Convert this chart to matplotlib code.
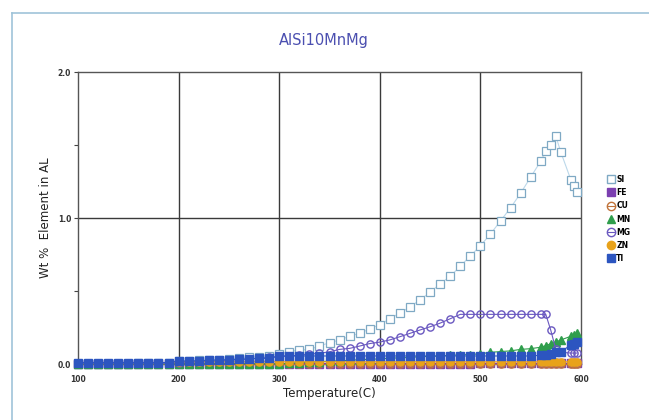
import matplotlib
matplotlib.use("Agg")
import matplotlib.pyplot as plt
from matplotlib.lines import Line2D

temps = [100, 110, 120, 130, 140, 150, 160, 170, 180, 190,
         200, 210, 220, 230, 240, 250, 260, 270, 280, 290,
         300, 310, 320, 330, 340, 350, 360, 370, 380, 390,
         400, 410, 420, 430, 440, 450, 460, 470, 480, 490,
         500, 510, 520, 530, 540, 550, 560, 565, 570, 575,
         580, 590, 593, 596]

si = [0.0, 0.0, 0.0, 0.0, 0.0, 0.0, 0.005, 0.005, 0.01, 0.01,
      0.02, 0.02, 0.025, 0.03, 0.03, 0.035, 0.04, 0.045, 0.05, 0.055,
      0.07, 0.084, 0.096, 0.10, 0.123, 0.146, 0.164, 0.19, 0.21, 0.24,
      0.27, 0.31, 0.35, 0.39, 0.44, 0.49, 0.55, 0.60, 0.67, 0.74,
      0.81, 0.89, 0.98, 1.07, 1.17, 1.28, 1.39, 1.46, 1.50, 1.56,
      1.45, 1.26, 1.22, 1.18]

fe = [0.0] * 10 + [0.002] * 10 + [0.003] * 20 + [0.004] * 14

cu = [0.0] * 54

mn = [0.0, 0.0, 0.0, 0.0, 0.0, 0.0, 0.0, 0.0, 0.0, 0.0,
      0.0, 0.0, 0.0, 0.0, 0.0, 0.0, 0.0, 0.0, 0.0, 0.0,
      0.0, 0.005, 0.01, 0.012, 0.015, 0.02, 0.022, 0.025, 0.03, 0.032,
      0.035, 0.04, 0.042, 0.045, 0.05, 0.052, 0.055, 0.06, 0.062, 0.065,
      0.07, 0.08, 0.085, 0.09, 0.10, 0.105, 0.115, 0.125, 0.14, 0.15,
      0.165, 0.19, 0.20, 0.21]

mg = [0.005, 0.005, 0.005, 0.005, 0.005, 0.005, 0.005, 0.005, 0.005, 0.005,
      0.01, 0.012, 0.015, 0.018, 0.02, 0.025, 0.03, 0.035, 0.04, 0.045,
      0.05, 0.055, 0.06, 0.068, 0.073, 0.084, 0.10, 0.107, 0.123, 0.14,
      0.15, 0.165, 0.187, 0.21, 0.233, 0.255, 0.28, 0.31, 0.34, 0.34,
      0.34, 0.34, 0.34, 0.34, 0.34, 0.34, 0.34, 0.34, 0.23, 0.10,
      0.08, 0.075, 0.075, 0.075]

zn = [0.01] * 10 + [0.015] * 44

ti = [0.01, 0.01, 0.01, 0.01, 0.01, 0.01, 0.01, 0.01, 0.01, 0.01,
      0.02, 0.02, 0.022, 0.025, 0.028, 0.03, 0.032, 0.035, 0.038, 0.04,
      0.055, 0.055, 0.055, 0.055, 0.055, 0.055, 0.055, 0.055, 0.055, 0.055,
      0.055, 0.055, 0.055, 0.055, 0.055, 0.055, 0.055, 0.055, 0.055, 0.055,
      0.055, 0.055, 0.055, 0.055, 0.055, 0.055, 0.06, 0.065, 0.07, 0.08,
      0.085, 0.13, 0.14, 0.15]

labels = ["SI", "FE", "CU", "MN", "MG", "ZN", "TI"]

fig = plt.figure(figsize=(6.49, 4.2), dpi=100)
fig.patch.set_facecolor("white")

# outer light-blue frame
fig.add_artist(Line2D([12/649, 12/649], [0, 1 - 13/420], color="#9fc3d9", lw=1.2, transform=fig.transFigure))
fig.add_artist(Line2D([12/649, 1], [1 - 13/420, 1 - 13/420], color="#9fc3d9", lw=1.2, transform=fig.transFigure))

ax = fig.add_axes([78/649, 1 - 364/420, 503/649, 292/420])

line_kw = dict(lw=0.8, markersize=5.2, clip_on=False)
ax.plot(temps, si, marker="s", mfc="white", mec="#7fa9c4", color="#bcd8ea", mew=0.9, **line_kw, zorder=3)
ax.plot(temps, fe, marker="s", mfc="#7b3fb0", mec="#7b3fb0", color="#7b3fb0", **line_kw, zorder=3)
ax.plot(temps, cu, marker="o", mfc="none", mec="#c0733a", color="#c0733a", **line_kw, zorder=3)
ax.plot(temps, mn, marker="^", mfc="#2f9e4c", mec="#2f9e4c", color="#2f9e4c", **line_kw, zorder=3)
ax.plot(temps, mg, marker="o", mfc="none", mec="#6a58c0", color="#6a58c0", mew=1.0, **line_kw, zorder=4)
ax.plot(temps, zn, marker="o", mfc="#e8a21a", mec="#e8a21a", color="#e8a21a", **line_kw, zorder=5)
ax.plot(temps, ti, marker="s", mfc="#2c55c0", mec="#2c55c0", color="#2c55c0", **line_kw, zorder=6)

ax.set_xlim(100, 600)
ax.set_ylim(0, 2.0)
ax.set_xticks([100, 200, 300, 400, 500, 600])
ax.set_yticks([0.0, 1.0, 2.0])
ax.set_yticklabels(["0.0", "1.0", "2.0"])
ax.set_yticks([0.5, 1.5], minor=True)
ax.tick_params(axis="both", which="major", labelsize=5.5, length=3, width=0.8, color="#444444", pad=2)
ax.tick_params(axis="y", which="minor", length=3, width=0.8, color="#444444")
ax.tick_params(axis="x", direction="in", pad=8)
for lbl in ax.get_xticklabels() + ax.get_yticklabels():
    lbl.set_fontweight("bold")
    lbl.set_color("#333333")

for x in [200, 300, 400, 500]:
    ax.axvline(x, color="#3a3a3a", lw=1.0, zorder=1)
ax.axhline(1.0, color="#3a3a3a", lw=1.0, zorder=1)
for s in ax.spines.values():
    s.set_color("#555555")
    s.set_linewidth(1.0)

ax.set_xlabel("Temperature(C)", fontsize=8.5, labelpad=2, color="#222222")
ax.set_ylabel("Wt %  Element in AL", fontsize=8.5, labelpad=4, color="#222222")

fig.text(324/649, 1 - 40/420, "AlSi10MnMg", ha="center", va="center", fontsize=10.5, color="#4b4fb0")

handles = [
    Line2D([], [], ls="none", marker="s", mfc="white", mec="#7fa9c4", markersize=6),
    Line2D([], [], ls="none", marker="s", mfc="#7b3fb0", mec="#7b3fb0", markersize=6),
    Line2D([], [], ls="-", lw=0.8, color="#c0733a", marker="o", mfc="none", mec="#c0733a", markersize=6),
    Line2D([], [], ls="none", marker="^", mfc="#2f9e4c", mec="#2f9e4c", markersize=6),
    Line2D([], [], ls="-", lw=0.8, color="#6a58c0", marker="o", mfc="none", mec="#6a58c0", markersize=6),
    Line2D([], [], ls="none", marker="o", mfc="#e8a21a", mec="#e8a21a", markersize=6),
    Line2D([], [], ls="none", marker="s", mfc="#2c55c0", mec="#2c55c0", markersize=6),
]
leg = fig.legend(handles, labels, loc="center left", bbox_to_anchor=(604/649, 1 - 219/420),
                 frameon=False, fontsize=5.5, handlelength=0.9, handletextpad=0.2,
                 labelspacing=0.55, borderpad=0)
for t in leg.get_texts():
    t.set_fontweight("bold")

fig.savefig("out.png", dpi=100)
